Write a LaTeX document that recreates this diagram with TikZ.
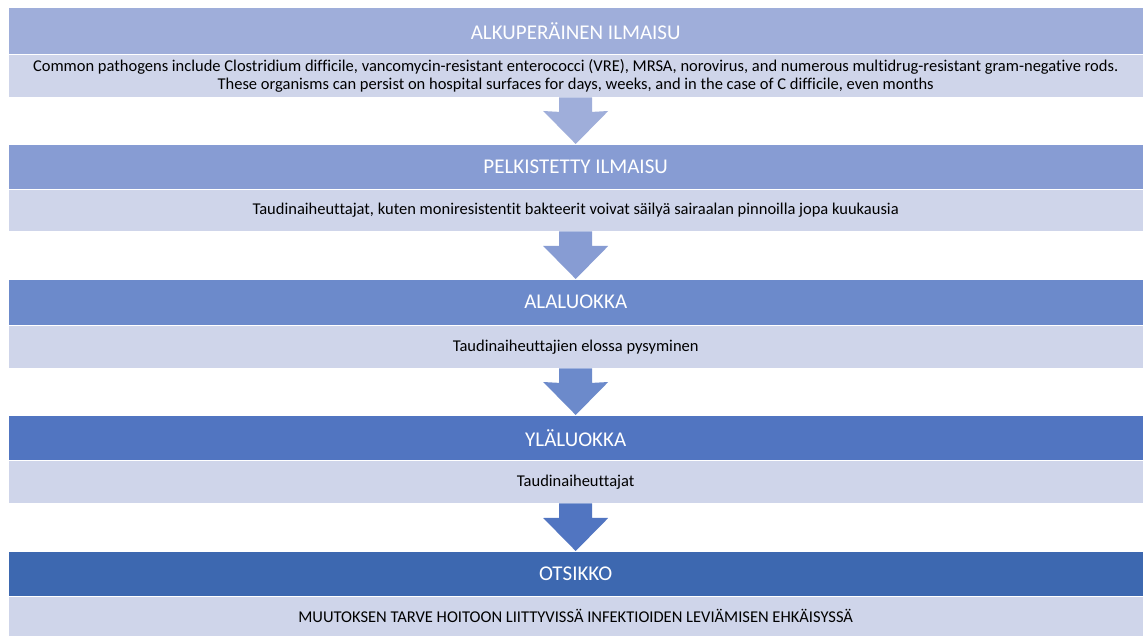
\documentclass[tikz,border=0pt]{standalone}
\usepackage{fontspec}
\setmainfont[Ligatures=NoCommon]{Carlito}
\usetikzlibrary{calc}
\definecolor{h1}{HTML}{9FAEDA}
\definecolor{h2}{HTML}{879CD3}
\definecolor{h3}{HTML}{6C8ACB}
\definecolor{h4}{HTML}{5175C1}
\definecolor{h5}{HTML}{3D68B0}
\definecolor{bodyc}{HTML}{CFD5EA}
\tikzset{
  hdr/.style={anchor=north west, minimum width=1135pt, minimum height=46pt, inner sep=0pt,
    text=white, font=\fontsize{21}{24}\selectfont, draw=white, line width=0.4pt},
  bdy/.style={anchor=north west, minimum width=1135pt, minimum height=43pt, inner sep=0pt,
    fill=bodyc, text=black, font=\fontsize{16.5}{18}\selectfont, align=center, draw=white, line width=0.4pt},
}
\newcommand{\flowarrow}[3]{%
  \fill[#3] ($(#1.south)+(-16.5,0)$) -- ($(#1.south)+(16.5,0)$) -- ($(#1.south)+(16.5,14.5)$)
    -- ($(#2.north)+(32.5,-33)$) -- (#2.north) -- ($(#2.north)+(-32.5,-33)$)
    -- ($(#1.south)+(-16.5,14.5)$) -- cycle;}
\begin{document}
\begin{tikzpicture}[x=1pt,y=-1pt]
\useasboundingbox (0,0) rectangle (1143,636);
\fill[white] (0,0) rectangle (1143,636);
\node[hdr, fill=h1, minimum height=47pt] (h1) at (8,7) {ALKUPERÄINEN ILMAISU};
\node[bdy] (b1) at (8,54) {Common pathogens include Clostridium difficile, vancomycin-resistant enterococci (VRE), MRSA, norovirus, and numerous multidrug-resistant gram-negative rods.\\These organisms can persist on hospital surfaces for days, weeks, and in the case of C difficile, even months};
\node[hdr, fill=h2, minimum height=45pt] (h2) at (8,144) {PELKISTETTY ILMAISU};
\node[bdy, minimum height=42pt] (b2) at (8,189) {Taudinaiheuttajat, kuten moniresistentit bakteerit voivat säilyä sairaalan pinnoilla jopa kuukausia};
\node[hdr, fill=h3] (h3) at (8,279) {ALALUOKKA};
\node[bdy] (b3) at (8,325) {Taudinaiheuttajien elossa pysyminen};
\node[hdr, fill=h4, minimum height=45pt] (h4) at (8,415) {YLÄLUOKKA};
\node[bdy] (b4) at (8,460) {Taudinaiheuttajat};
\node[hdr, fill=h5, minimum height=45pt] (h5) at (8,551) {OTSIKKO};
\node[bdy, minimum height=40pt] (b5) at (8,596) {MUUTOKSEN TARVE HOITOON LIITTYVISSÄ INFEKTIOIDEN LEVIÄMISEN EHKÄISYSSÄ};
\flowarrow{b1}{h2}{h1}
\flowarrow{b2}{h3}{h2}
\flowarrow{b3}{h4}{h3}
\flowarrow{b4}{h5}{h4}
\end{tikzpicture}
\end{document}
